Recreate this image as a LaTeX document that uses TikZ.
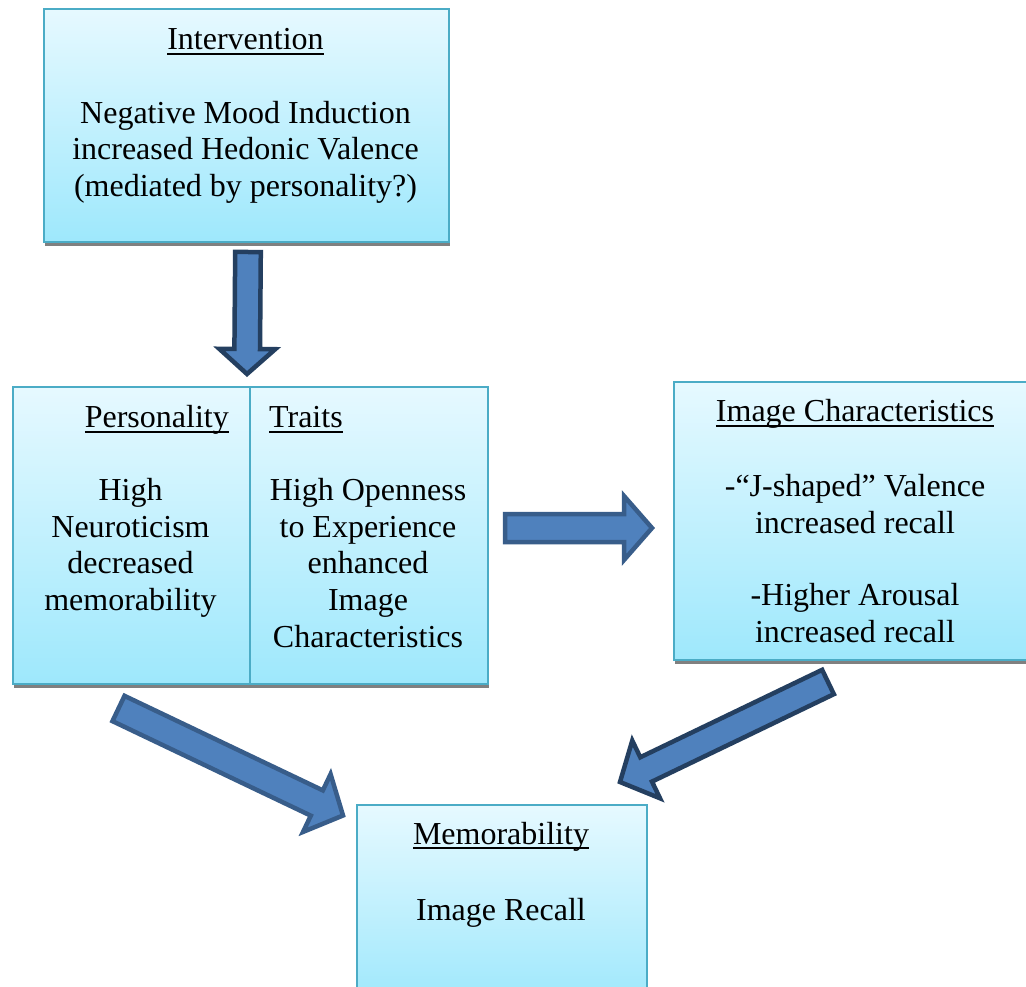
\documentclass[tikz,border=0pt]{standalone}
\usepackage{fontspec}
\setmainfont{Liberation Serif}
\usetikzlibrary{calc,shadows}
\definecolor{boxline}{RGB}{75,172,198}
\definecolor{boxtop}{RGB}{230,249,255}
\definecolor{boxbot}{RGB}{158,232,252}
\definecolor{arrfill}{RGB}{79,129,189}
\definecolor{arrlineA}{RGB}{56,93,138}
\definecolor{arrlineB}{RGB}{36,63,96}
\definecolor{shadowgray}{RGB}{128,128,128}
\newcommand\ulx[1]{\setbox0\hbox{#1}\rlap{\rule[-5pt]{\wd0}{2pt}}\box0}
\newcommand\blockarrow[6]{%
  \coordinate (#2-q) at ($(#3)!#6!(#2)$);
  \draw[#1] ($(#2)!#4!90:(#3)$) -- ($(#2-q)!#4!-90:(#2)$) -- ($(#2-q)!#5!-90:(#2)$) -- (#3)
     -- ($(#2-q)!#5!90:(#2)$) -- ($(#2-q)!#4!90:(#2)$) -- ($(#2)!#4!-90:(#3)$) -- cycle;}
\tikzset{
  box/.style={draw=boxline, line width=2pt, top color=boxtop, bottom color=boxbot,
    drop shadow={shadow xshift=0.5pt, shadow yshift=-4pt, fill=shadowgray, opacity=1},
    inner sep=0pt, anchor=north west},
  txt/.style={font=\fontsize{32}{36.6}\selectfont, align=center, anchor=base, inner sep=0pt},
  barr/.style={fill=arrfill, line width=4.5pt, line join=miter},
}
\begin{document}
\begin{tikzpicture}[x=1pt,y=-1pt]
\useasboundingbox (0,0) rectangle (1026,987);
\clip (0,0) rectangle (1026,987);
\fill[white] (0,0) rectangle (1026,987);
% boxes
\node[box, minimum width=405pt, minimum height=233pt] (interv) at (43,8) {};
\node[box, minimum width=237pt, minimum height=297pt] (pers) at (12,386) {};
\node[box, minimum width=238pt, minimum height=297pt] (traits) at (249,386) {};
\node[box, minimum width=364pt, minimum height=278pt] (imgc) at (673,381) {};
\node[box, minimum width=290pt, minimum height=200pt] (memo) at (356,804) {};
% texts (base anchor = baseline of last line)
\node[txt] (interv-title) at (245.5,50) {\ulx{Intervention}};
\node[txt] (interv-body) at (245.5,196.5) {Negative Mood Induction\\increased Hedonic Valence\\(mediated by personality?)};
\node[txt, anchor=base east] (pers-title) at (229,427.5) {\ulx{Personality}};
\node[txt, anchor=base west] (traits-title) at (269,427.5) {\ulx{Traits}};
\node[txt] (pers-body) at (130.5,610.5) {High\\Neuroticism\\decreased\\memorability};
\node[txt] (traits-body) at (368,647) {High Openness\\to Experience\\enhanced\\Image\\Characteristics};
\node[txt] (imgc-title) at (855,421.5) {\ulx{Image Characteristics}};
\node[txt] (imgc-body1) at (855,533) {-“J-shaped” Valence\\increased recall};
\node[txt] (imgc-body2) at (855,642.5) {-Higher Arousal\\increased recall};
\node[txt] (memo-title) at (501,844) {\ulx{Memorability}};
\node[txt] (memo-body) at (501,920) {Image Recall};
% arrows
\coordinate (a1s) at ($(interv.south)+(1.5,9)$);
\coordinate (a1e) at (247,374);
\blockarrow{barr, draw=arrlineB}{a1s}{a1e}{12.8pt}{28pt}{25pt}
\coordinate (a2s) at (505,528);
\coordinate (a2e) at (652,528);
\blockarrow{barr, draw=arrlineA}{a2s}{a2e}{14pt}{32pt}{28pt}
\coordinate (a3s) at (118.5,708.5);
\coordinate (a3e) at (343,815.5);
\blockarrow{barr, draw=arrlineA}{a3s}{a3e}{14pt}{32pt}{29pt}
\coordinate (a4s) at (828,682);
\coordinate (a4e) at (620,782);
\blockarrow{barr, draw=arrlineB}{a4s}{a4e}{13.5pt}{32pt}{29pt}
\end{tikzpicture}
\end{document}
